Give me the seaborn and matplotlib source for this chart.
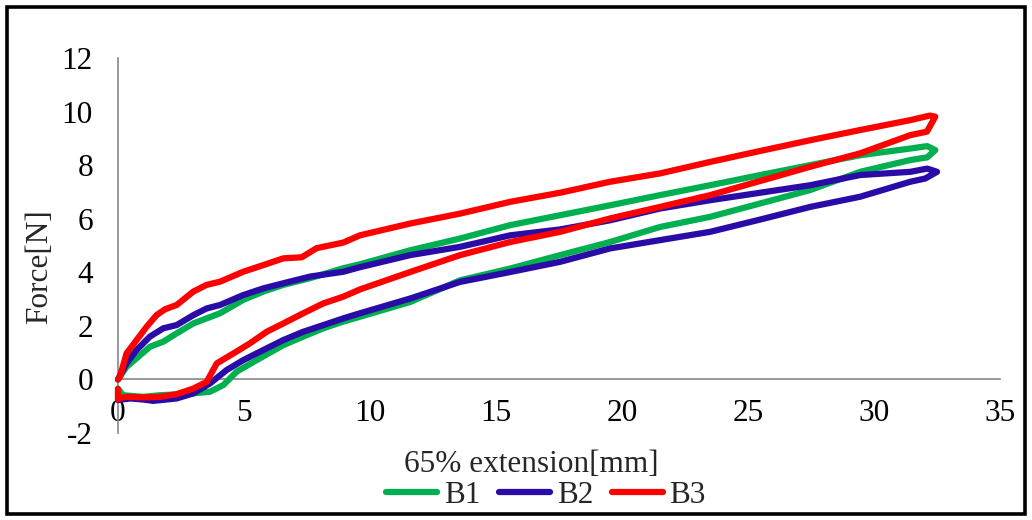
import matplotlib
matplotlib.use("Agg")
import matplotlib.pyplot as plt
from matplotlib.patches import Rectangle
import pandas as pd
import seaborn as sns

# each loop traced as loading branch then unloading branch (extension in mm, force in N)
b1_x = [0, 0.34, 0.74, 1.27, 1.8, 2.33, 2.99, 3.52, 4.05, 4.97, 5.77, 6.56, 7.62, 8.94, 9.6, 11.59, 13.57, 15.56,
        17.54, 19.52, 21.5, 23.49, 25.48, 27.46, 29.44, 31.43, 32.1, 32.42,
        32.1, 31.43, 29.44, 27.46, 25.48, 23.49, 21.5, 19.52, 17.54, 15.56, 13.57, 11.59, 9.6, 8.94, 8.15,
        7.35, 6.56, 5.5, 4.71, 4.18, 3.65, 2.99, 2.33, 1.67, 1.0, 0.2, 0]
b1_y = [0, 0.47, 0.79, 1.22, 1.41, 1.72, 2.09, 2.28, 2.47, 2.97, 3.28, 3.53, 3.78, 4.15, 4.3, 4.82, 5.26, 5.76,
        6.13, 6.5, 6.88, 7.25, 7.63, 8.0, 8.37, 8.62, 8.71, 8.56,
        8.29, 8.19, 7.75, 7.07, 6.57, 6.07, 5.69, 5.13, 4.64, 4.14, 3.7, 2.89, 2.34, 2.16, 1.91,
        1.6, 1.28, 0.72, 0.29, -0.21, -0.46, -0.52, -0.56, -0.59, -0.65, -0.59, -0.34]

b2_x = [0, 0.34, 0.74, 1.27, 1.8, 2.33, 2.99, 3.52, 4.05, 4.97, 5.77, 6.56, 7.62, 8.94, 9.6, 11.59, 13.57, 15.56,
        17.54, 19.52, 21.5, 23.49, 25.48, 27.46, 29.44, 31.43, 32.1, 32.49,
        32.02, 31.43, 29.44, 27.46, 25.48, 23.49, 21.5, 19.52, 17.54, 15.56, 13.57, 11.59, 9.6, 8.94, 8.15,
        7.35, 6.56, 5.77, 4.97, 4.31, 3.65, 2.99, 2.33, 1.4, 1.0, 0.48, 0]
b2_y = [0, 0.6, 1.1, 1.6, 1.91, 2.03, 2.4, 2.65, 2.78, 3.15, 3.4, 3.59, 3.84, 4.02, 4.19, 4.64, 4.95, 5.38,
        5.6, 5.94, 6.38, 6.69, 6.97, 7.25, 7.63, 7.75, 7.87, 7.75,
        7.5, 7.38, 6.82, 6.44, 5.97, 5.51, 5.2, 4.89, 4.39, 4.01, 3.64, 3.02, 2.47, 2.28, 2.03,
        1.78, 1.47, 1.1, 0.72, 0.35, -0.15, -0.52, -0.71, -0.8, -0.75, -0.71, -0.77]

b3_x = [0, 0.08, 0.34, 0.74, 1.14, 1.53, 1.87, 2.33, 2.99, 3.52, 4.05, 4.97, 5.77, 6.56, 7.29, 7.88, 8.94, 9.6,
        11.59, 13.57, 15.56, 17.54, 19.52, 21.5, 23.49, 25.48, 27.46, 29.44, 31.43, 32.2, 32.42,
        32.09, 31.43, 29.44, 27.46, 25.48, 23.49, 21.5, 19.52, 17.54, 15.56, 13.57, 11.59, 9.6, 8.94, 8.15,
        7.35, 6.56, 5.9, 5.24, 4.58, 3.92, 3.52, 2.99, 2.33, 1.67, 1.0, 0.34, 0.05, 0, 0]
b3_y = [0, 0.1, 0.97, 1.47, 1.97, 2.4, 2.62, 2.78, 3.28, 3.53, 3.65, 4.02, 4.27, 4.52, 4.56, 4.9, 5.11, 5.38,
        5.82, 6.19, 6.63, 6.97, 7.38, 7.69, 8.12, 8.53, 8.93, 9.31, 9.68, 9.85, 9.81,
        9.25, 9.12, 8.44, 7.94, 7.41, 6.88, 6.44, 6.01, 5.51, 5.13, 4.64, 4.01, 3.36, 3.09, 2.84,
        2.47, 2.09, 1.78, 1.35, 0.97, 0.6, -0.09, -0.34, -0.55, -0.65, -0.67, -0.65, -0.7, -0.75, -0.36]

series = ["B1", "B2", "B3"]
colors = ["#00B050", "#2A0BA8", "#FF0000"]

frames = []
for name, xs, ys in zip(series, [b1_x, b2_x, b3_x], [b1_y, b2_y, b3_y]):
    frames.append(pd.DataFrame({"ext": xs, "force": ys, "sample": name}))
df = pd.concat(frames, ignore_index=True)

sns.set_style("white")
plt.rcParams["font.family"] = ["Liberation Serif", "DejaVu Serif"]
plt.rcParams["axes.unicode_minus"] = False
fs = 22.5

fig = plt.figure(figsize=(10.32, 5.2), dpi=100)
ax = fig.add_axes([0.1143, 0.1673, 0.855, 0.7212])

sns.lineplot(data=df, x="ext", y="force", hue="sample", palette=colors,
             sort=False, estimator=None, linewidth=4.5, legend=False, ax=ax)
for ln in ax.get_lines():
    ln.set_clip_on(False)
    ln.set_solid_capstyle("round")
    ln.set_solid_joinstyle("round")
    ln.set_zorder(3)

ax.set_xlim(0, 35)
ax.set_ylim(-2, 12)
ax.set_xticks(range(0, 36, 5))
ax.set_yticks(range(-2, 13, 2))

grey = "#878787"
ax.spines["top"].set_visible(False)
ax.spines["right"].set_visible(False)
ax.spines["bottom"].set_position(("data", 0))
for s in ["bottom", "left"]:
    ax.spines[s].set_color(grey)
    ax.spines[s].set_linewidth(1.2)
    ax.spines[s].set_zorder(1)
ax.tick_params(axis="both", direction="out", length=5, width=1.2, color=grey,
               labelcolor="black", labelsize=fs)
ax.tick_params(axis="x", pad=9)
ax.tick_params(axis="y", pad=13)

ax.set_xlabel("65% extension[mm]", fontsize=fs)
ax.xaxis.set_label_coords(0.468, -0.045)
ax.set_ylabel("Force[N]", fontsize=fs)
ax.yaxis.set_label_coords(-0.072, 0.443)

handles = ax.get_lines()[:3]
fig.legend(handles, series, loc="center", bbox_to_anchor=(0.529, 0.047), ncol=3,
           frameon=False, handlelength=1.65, handletextpad=0.2, columnspacing=0.6,
           fontsize=fs, borderpad=0)

fig.patches.append(Rectangle((0.0063, 0.0125), 1 - 2 * 0.0063, 1 - 2 * 0.0125,
                             transform=fig.transFigure, fill=False,
                             edgecolor="black", linewidth=2.6))

fig.savefig("out.png", dpi=100)
